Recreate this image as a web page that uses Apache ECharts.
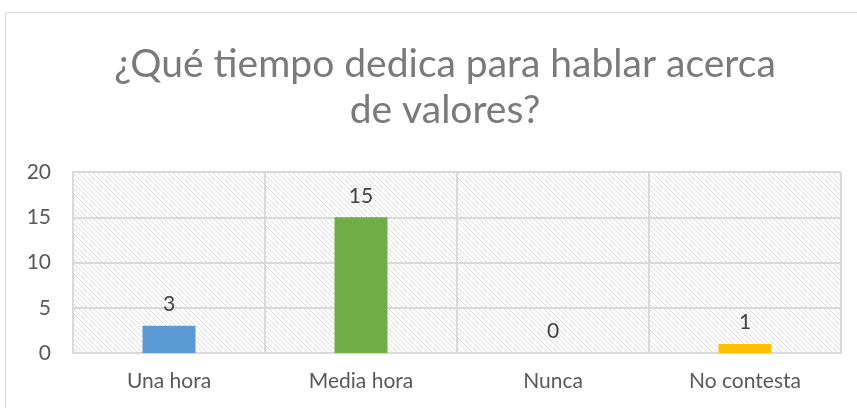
<!DOCTYPE html>
<html>
<head>
<meta charset="utf-8">
<script src="https://cdn.jsdelivr.net/npm/echarts@6/dist/echarts.min.js"></script>
<style>
  html, body { margin: 0; padding: 0; background: #fff; }
  #chart { width: 857px; height: 408px; }
</style>
</head>
<body>
<div id="chart"></div>
<script>
// datos
var categories = ['Una hora', 'Media hora', 'Nunca', 'No contesta']
var values = [3, 15, 0, 1]
var barColors = ['#5B9BD5', '#70AD47', '#A5A5A5', '#FFC000']
var titleText = '¿Qué tiempo dedica para hablar acerca\nde valores?'

// trama diagonal del fondo
function makeHatch() {
  var c = document.createElement('canvas')
  c.width = 5
  c.height = 5
  var ctx = c.getContext('2d')
  ctx.fillStyle = '#ffffff'
  ctx.fillRect(0, 0, 5, 5)
  ctx.strokeStyle = '#dcdcdc'
  ctx.lineWidth = 1
  ctx.beginPath()
  ctx.moveTo(-1, -1)
  ctx.lineTo(6, 6)
  ctx.moveTo(-1, 4)
  ctx.lineTo(1, 6)
  ctx.moveTo(4, -1)
  ctx.lineTo(6, 1)
  ctx.stroke()
  return c
}

var chart = echarts.init(document.getElementById('chart'))
var font = 'Lato, "Open Sans", sans-serif'

chart.setOption({
  animation: false,
  textStyle: { fontFamily: font },
  title: {
    text: titleText,
    left: 440,
    textAlign: 'center',
    top: 36,
    textStyle: {
      fontFamily: font,
      fontSize: 39,
      fontWeight: 'normal',
      color: '#7a7a7a',
      lineHeight: 46
    }
  },
  graphic: [{
    type: 'rect',
    shape: { x: 5.5, y: 12.5, width: 900, height: 500 },
    style: { fill: 'none', stroke: '#d9d9d9', lineWidth: 1 },
    silent: true
  }],
  grid: {
    left: 73,
    right: 16,
    top: 172,
    bottom: 55,
    show: true,
    borderWidth: 0,
    backgroundColor: { image: makeHatch(), repeat: 'repeat' }
  },
  xAxis: {
    type: 'category',
    data: categories,
    axisTick: { show: false },
    axisLine: { lineStyle: { color: '#d9d9d9', width: 2 } },
    axisLabel: { color: '#595959', fontSize: 21, margin: 18 },
    splitLine: { show: true, lineStyle: { color: '#d9d9d9', width: 2 } }
  },
  yAxis: {
    type: 'value',
    min: 0,
    max: 20,
    interval: 5,
    axisLine: { show: true, lineStyle: { color: '#d9d9d9', width: 2 } },
    axisTick: { show: false },
    axisLabel: { color: '#595959', fontSize: 21, margin: 22 },
    splitLine: { lineStyle: { color: '#d9d9d9', width: 2 } }
  },
  series: [{
    type: 'bar',
    barWidth: 53,
    data: values.map(function(v, i) {
      return { value: v, itemStyle: { color: barColors[i] } }
    }),
    label: {
      show: true,
      position: 'top',
      distance: 11,
      color: '#404040',
      fontSize: 21
    }
  }]
})
</script>
</body>
</html>
